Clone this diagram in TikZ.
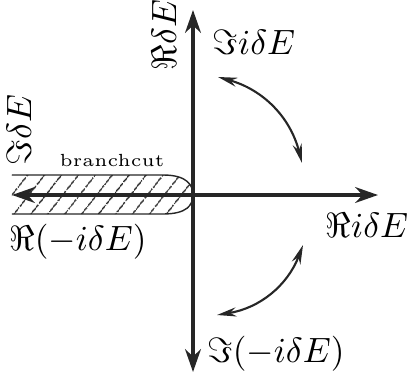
\documentclass[tikz,border=0pt]{standalone}
\usepackage{amsmath,amssymb}
\usepackage{tikz}
\usetikzlibrary{arrows.meta,patterns.meta}

\begin{document}
\begin{tikzpicture}[
    axis/.style={{Stealth[length=6.5pt,width=4.5pt]}-{Stealth[length=6.5pt,width=4.5pt]}, line width=1pt, black!85},
    turn/.style={{Stealth[length=5.5pt,width=2.6pt]}-{Stealth[length=5.5pt,width=2.6pt]}, semithick, black!85},
    cut/.style={black!85, pattern={Lines[angle=52,distance=4pt,line width=0.4pt]}, pattern color=black!85},
  ]
  \useasboundingbox (-1.93,-1.83) rectangle (2.21,1.95);

  % axes ends
  \coordinate (o) at (0,0);
  \coordinate (n) at (0,1.85);
  \coordinate (s) at (0,-1.77);
  \coordinate (e) at (1.85,0);
  \coordinate (w) at (-1.81,0);

  % branch cut along the negative axis
  \path[cut] (-1.81,0.2) -- (-0.3,0.2)
    .. controls (-0.06,0.2) and (0,0.1) .. (o)
    .. controls (0,-0.1) and (-0.06,-0.19) .. (-0.3,-0.19) -- (-1.81,-0.19);
  \draw[black!85] (-1.81,0.2) -- (-0.3,0.2)
    .. controls (-0.06,0.2) and (0,0.1) .. (o)
    .. controls (0,-0.1) and (-0.06,-0.19) .. (-0.3,-0.19) -- (-1.81,-0.19);
  \node[font=\tiny] (bc) at (-0.81,0.35) {branchcut};

  % axes
  \draw[axis] (s) -- (n);
  \draw[axis] (w) -- (e);

  % labels
  \node[rotate=90] (re) at (-0.29,1.60) {$\Re\delta E$};
  \node (imi) at (0.61,1.53) {$\Im i\delta E$};
  \node[rotate=90] (im) at (-1.74,0.65) {$\Im\delta E$};
  \node (rei) at (1.74,-0.30) {$\Re i\delta E$};
  \node (rem) at (-1.15,-0.47) {$\Re(-i\delta E)$};
  \node (imm) at (0.83,-1.59) {$\Im(-i\delta E)$};

  % rotation arrows
  \coordinate (a1) at (0.25,1.18);
  \coordinate (b1) at (1.09,0.32);
  \coordinate (a2) at (1.10,-0.50);
  \coordinate (b2) at (0.24,-1.20);
  \draw[turn] (a1) to[bend left=30] (b1);
  \draw[turn] (a2) to[bend left=30] (b2);

\end{tikzpicture}
\end{document}
